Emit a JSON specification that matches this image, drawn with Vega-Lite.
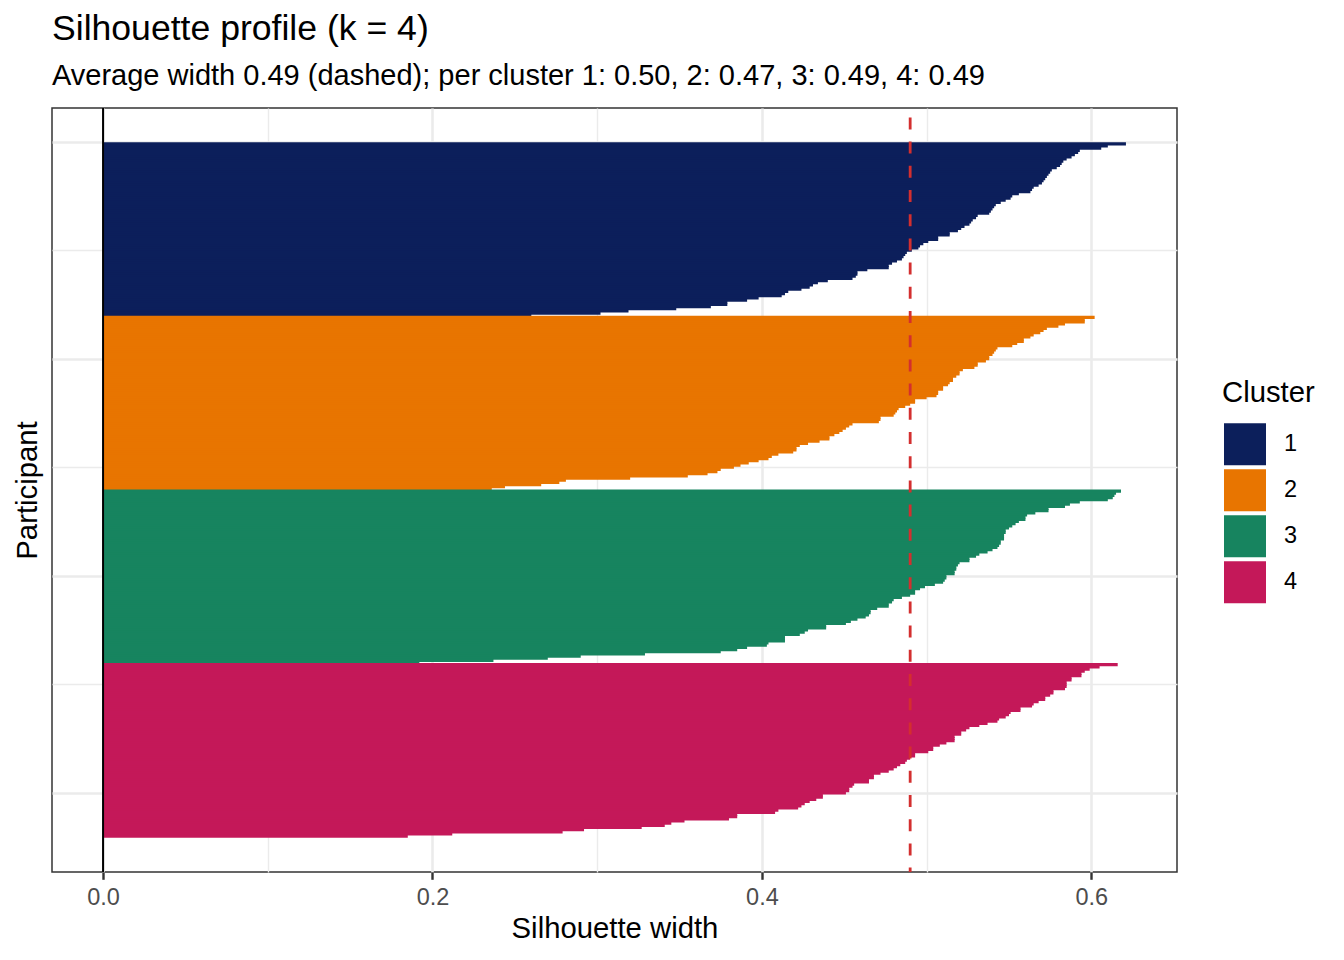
{
  "$schema": "https://vega.github.io/schema/vega-lite/v6.json",
  "width": 1125,
  "height": 764,
  "autosize": {"type": "none"},
  "padding": {"left": 52, "top": 108, "right": 167, "bottom": 88},
  "background": "white",
  "title": {
    "text": "Silhouette profile (k = 4)",
    "subtitle": "Average width 0.49 (dashed); per cluster 1: 0.50, 2: 0.47, 3: 0.49, 4: 0.49",
    "anchor": "start",
    "frame": "group",
    "font": "Liberation Sans",
    "subtitleFont": "Liberation Sans",
    "fontSize": 35.6,
    "fontWeight": "normal",
    "color": "black",
    "subtitleFontSize": 29,
    "subtitleColor": "black",
    "subtitlePadding": 14,
    "offset": 16
  },
  "config": {
    "font": "Liberation Sans",
    "view": {"stroke": "#333333", "strokeWidth": 1.5}
  },
  "layer": [
    {
      "data": {"values": [
        {"i":1,"c":"1","w":0.621},{"i":2,"c":"1","w":0.610},{"i":3,"c":"1","w":0.606},{"i":4,"c":"1","w":0.593},{"i":5,"c":"1","w":0.592},
        {"i":6,"c":"1","w":0.590},{"i":7,"c":"1","w":0.588},{"i":8,"c":"1","w":0.585},{"i":9,"c":"1","w":0.583},{"i":10,"c":"1","w":0.582},
        {"i":11,"c":"1","w":0.581},{"i":12,"c":"1","w":0.579},{"i":13,"c":"1","w":0.576},{"i":14,"c":"1","w":0.575},{"i":15,"c":"1","w":0.574},
        {"i":16,"c":"1","w":0.573},{"i":17,"c":"1","w":0.572},{"i":18,"c":"1","w":0.571},{"i":19,"c":"1","w":0.570},{"i":20,"c":"1","w":0.568},
        {"i":21,"c":"1","w":0.565},{"i":22,"c":"1","w":0.564},{"i":23,"c":"1","w":0.563},{"i":24,"c":"1","w":0.556},{"i":25,"c":"1","w":0.552},
        {"i":26,"c":"1","w":0.551},{"i":27,"c":"1","w":0.548},{"i":28,"c":"1","w":0.545},{"i":29,"c":"1","w":0.542},{"i":30,"c":"1","w":0.541},
        {"i":31,"c":"1","w":0.540},{"i":32,"c":"1","w":0.539},{"i":33,"c":"1","w":0.538},{"i":34,"c":"1","w":0.531},{"i":35,"c":"1","w":0.530},
        {"i":36,"c":"1","w":0.528},{"i":37,"c":"1","w":0.527},{"i":38,"c":"1","w":0.526},{"i":39,"c":"1","w":0.523},{"i":40,"c":"1","w":0.521},
        {"i":41,"c":"1","w":0.519},{"i":42,"c":"1","w":0.514},{"i":43,"c":"1","w":0.514},{"i":44,"c":"1","w":0.507},{"i":45,"c":"1","w":0.507},
        {"i":46,"c":"1","w":0.501},{"i":47,"c":"1","w":0.498},{"i":48,"c":"1","w":0.496},{"i":49,"c":"1","w":0.495},{"i":50,"c":"1","w":0.491},
        {"i":51,"c":"1","w":0.488},{"i":52,"c":"1","w":0.487},{"i":53,"c":"1","w":0.486},{"i":54,"c":"1","w":0.485},{"i":55,"c":"1","w":0.482},
        {"i":56,"c":"1","w":0.479},{"i":57,"c":"1","w":0.477},{"i":58,"c":"1","w":0.477},{"i":59,"c":"1","w":0.464},{"i":60,"c":"1","w":0.458},
        {"i":61,"c":"1","w":0.458},{"i":62,"c":"1","w":0.457},{"i":63,"c":"1","w":0.455},{"i":64,"c":"1","w":0.440},{"i":65,"c":"1","w":0.434},
        {"i":66,"c":"1","w":0.431},{"i":67,"c":"1","w":0.429},{"i":68,"c":"1","w":0.424},{"i":69,"c":"1","w":0.416},{"i":70,"c":"1","w":0.414},
        {"i":71,"c":"1","w":0.412},{"i":72,"c":"1","w":0.398},{"i":73,"c":"1","w":0.391},{"i":74,"c":"1","w":0.379},{"i":75,"c":"1","w":0.379},
        {"i":76,"c":"1","w":0.369},{"i":77,"c":"1","w":0.348},{"i":78,"c":"1","w":0.319},{"i":79,"c":"1","w":0.302},{"i":80,"c":"1","w":0.260},
        {"i":81,"c":"2","w":0.602},{"i":82,"c":"2","w":0.596},{"i":83,"c":"2","w":0.596},{"i":84,"c":"2","w":0.584},{"i":85,"c":"2","w":0.580},
        {"i":86,"c":"2","w":0.573},{"i":87,"c":"2","w":0.571},{"i":88,"c":"2","w":0.569},{"i":89,"c":"2","w":0.565},{"i":90,"c":"2","w":0.563},
        {"i":91,"c":"2","w":0.559},{"i":92,"c":"2","w":0.559},{"i":93,"c":"2","w":0.555},{"i":94,"c":"2","w":0.552},{"i":95,"c":"2","w":0.543},
        {"i":96,"c":"2","w":0.542},{"i":97,"c":"2","w":0.541},{"i":98,"c":"2","w":0.540},{"i":99,"c":"2","w":0.538},{"i":100,"c":"2","w":0.538},
        {"i":101,"c":"2","w":0.536},{"i":102,"c":"2","w":0.531},{"i":103,"c":"2","w":0.531},{"i":104,"c":"2","w":0.529},{"i":105,"c":"2","w":0.522},
        {"i":106,"c":"2","w":0.520},{"i":107,"c":"2","w":0.520},{"i":108,"c":"2","w":0.518},{"i":109,"c":"2","w":0.516},{"i":110,"c":"2","w":0.516},
        {"i":111,"c":"2","w":0.514},{"i":112,"c":"2","w":0.513},{"i":113,"c":"2","w":0.510},{"i":114,"c":"2","w":0.510},{"i":115,"c":"2","w":0.507},
        {"i":116,"c":"2","w":0.507},{"i":117,"c":"2","w":0.506},{"i":118,"c":"2","w":0.500},{"i":119,"c":"2","w":0.493},{"i":120,"c":"2","w":0.493},
        {"i":121,"c":"2","w":0.490},{"i":122,"c":"2","w":0.487},{"i":123,"c":"2","w":0.483},{"i":124,"c":"2","w":0.482},{"i":125,"c":"2","w":0.481},
        {"i":126,"c":"2","w":0.480},{"i":127,"c":"2","w":0.472},{"i":128,"c":"2","w":0.472},{"i":129,"c":"2","w":0.471},{"i":130,"c":"2","w":0.455},
        {"i":131,"c":"2","w":0.453},{"i":132,"c":"2","w":0.451},{"i":133,"c":"2","w":0.449},{"i":134,"c":"2","w":0.447},{"i":135,"c":"2","w":0.444},
        {"i":136,"c":"2","w":0.441},{"i":137,"c":"2","w":0.441},{"i":138,"c":"2","w":0.435},{"i":139,"c":"2","w":0.428},{"i":140,"c":"2","w":0.423},
        {"i":141,"c":"2","w":0.421},{"i":142,"c":"2","w":0.421},{"i":143,"c":"2","w":0.419},{"i":144,"c":"2","w":0.410},{"i":145,"c":"2","w":0.406},
        {"i":146,"c":"2","w":0.404},{"i":147,"c":"2","w":0.398},{"i":148,"c":"2","w":0.392},{"i":149,"c":"2","w":0.387},{"i":150,"c":"2","w":0.383},
        {"i":151,"c":"2","w":0.375},{"i":152,"c":"2","w":0.373},{"i":153,"c":"2","w":0.367},{"i":154,"c":"2","w":0.355},{"i":155,"c":"2","w":0.320},
        {"i":156,"c":"2","w":0.281},{"i":157,"c":"2","w":0.277},{"i":158,"c":"2","w":0.266},{"i":159,"c":"2","w":0.244},{"i":160,"c":"2","w":0.236},
        {"i":161,"c":"3","w":0.618},{"i":162,"c":"3","w":0.615},{"i":163,"c":"3","w":0.614},{"i":164,"c":"3","w":0.613},{"i":165,"c":"3","w":0.610},
        {"i":166,"c":"3","w":0.593},{"i":167,"c":"3","w":0.587},{"i":168,"c":"3","w":0.584},{"i":169,"c":"3","w":0.574},{"i":170,"c":"3","w":0.574},
        {"i":171,"c":"3","w":0.566},{"i":172,"c":"3","w":0.561},{"i":173,"c":"3","w":0.560},{"i":174,"c":"3","w":0.560},{"i":175,"c":"3","w":0.556},
        {"i":176,"c":"3","w":0.554},{"i":177,"c":"3","w":0.552},{"i":178,"c":"3","w":0.550},{"i":179,"c":"3","w":0.548},{"i":180,"c":"3","w":0.548},
        {"i":181,"c":"3","w":0.547},{"i":182,"c":"3","w":0.547},{"i":183,"c":"3","w":0.547},{"i":184,"c":"3","w":0.545},{"i":185,"c":"3","w":0.545},
        {"i":186,"c":"3","w":0.544},{"i":187,"c":"3","w":0.543},{"i":188,"c":"3","w":0.540},{"i":189,"c":"3","w":0.537},{"i":190,"c":"3","w":0.532},
        {"i":191,"c":"3","w":0.530},{"i":192,"c":"3","w":0.526},{"i":193,"c":"3","w":0.526},{"i":194,"c":"3","w":0.520},{"i":195,"c":"3","w":0.519},
        {"i":196,"c":"3","w":0.518},{"i":197,"c":"3","w":0.518},{"i":198,"c":"3","w":0.517},{"i":199,"c":"3","w":0.517},{"i":200,"c":"3","w":0.512},
        {"i":201,"c":"3","w":0.512},{"i":202,"c":"3","w":0.511},{"i":203,"c":"3","w":0.510},{"i":204,"c":"3","w":0.505},{"i":205,"c":"3","w":0.499},
        {"i":206,"c":"3","w":0.496},{"i":207,"c":"3","w":0.493},{"i":208,"c":"3","w":0.493},{"i":209,"c":"3","w":0.490},{"i":210,"c":"3","w":0.485},
        {"i":211,"c":"3","w":0.480},{"i":212,"c":"3","w":0.479},{"i":213,"c":"3","w":0.477},{"i":214,"c":"3","w":0.477},{"i":215,"c":"3","w":0.470},
        {"i":216,"c":"3","w":0.466},{"i":217,"c":"3","w":0.466},{"i":218,"c":"3","w":0.465},{"i":219,"c":"3","w":0.463},{"i":220,"c":"3","w":0.458},
        {"i":221,"c":"3","w":0.454},{"i":222,"c":"3","w":0.451},{"i":223,"c":"3","w":0.439},{"i":224,"c":"3","w":0.439},{"i":225,"c":"3","w":0.428},
        {"i":226,"c":"3","w":0.426},{"i":227,"c":"3","w":0.423},{"i":228,"c":"3","w":0.414},{"i":229,"c":"3","w":0.414},{"i":230,"c":"3","w":0.414},
        {"i":231,"c":"3","w":0.404},{"i":232,"c":"3","w":0.403},{"i":233,"c":"3","w":0.391},{"i":234,"c":"3","w":0.385},{"i":235,"c":"3","w":0.375},
        {"i":236,"c":"3","w":0.329},{"i":237,"c":"3","w":0.290},{"i":238,"c":"3","w":0.270},{"i":239,"c":"3","w":0.237},{"i":240,"c":"3","w":0.192},
        {"i":241,"c":"4","w":0.616},{"i":242,"c":"4","w":0.605},{"i":243,"c":"4","w":0.599},{"i":244,"c":"4","w":0.596},{"i":245,"c":"4","w":0.594},
        {"i":246,"c":"4","w":0.594},{"i":247,"c":"4","w":0.588},{"i":248,"c":"4","w":0.588},{"i":249,"c":"4","w":0.585},{"i":250,"c":"4","w":0.585},
        {"i":251,"c":"4","w":0.585},{"i":252,"c":"4","w":0.584},{"i":253,"c":"4","w":0.577},{"i":254,"c":"4","w":0.577},{"i":255,"c":"4","w":0.575},
        {"i":256,"c":"4","w":0.572},{"i":257,"c":"4","w":0.572},{"i":258,"c":"4","w":0.568},{"i":259,"c":"4","w":0.565},{"i":260,"c":"4","w":0.564},
        {"i":261,"c":"4","w":0.557},{"i":262,"c":"4","w":0.557},{"i":263,"c":"4","w":0.551},{"i":264,"c":"4","w":0.550},{"i":265,"c":"4","w":0.548},
        {"i":266,"c":"4","w":0.544},{"i":267,"c":"4","w":0.543},{"i":268,"c":"4","w":0.537},{"i":269,"c":"4","w":0.532},{"i":270,"c":"4","w":0.526},
        {"i":271,"c":"4","w":0.524},{"i":272,"c":"4","w":0.521},{"i":273,"c":"4","w":0.521},{"i":274,"c":"4","w":0.517},{"i":275,"c":"4","w":0.517},
        {"i":276,"c":"4","w":0.517},{"i":277,"c":"4","w":0.512},{"i":278,"c":"4","w":0.508},{"i":279,"c":"4","w":0.504},{"i":280,"c":"4","w":0.504},
        {"i":281,"c":"4","w":0.501},{"i":282,"c":"4","w":0.493},{"i":283,"c":"4","w":0.493},{"i":284,"c":"4","w":0.490},{"i":285,"c":"4","w":0.488},
        {"i":286,"c":"4","w":0.487},{"i":287,"c":"4","w":0.484},{"i":288,"c":"4","w":0.482},{"i":289,"c":"4","w":0.480},{"i":290,"c":"4","w":0.477},
        {"i":291,"c":"4","w":0.472},{"i":292,"c":"4","w":0.468},{"i":293,"c":"4","w":0.468},{"i":294,"c":"4","w":0.465},{"i":295,"c":"4","w":0.465},
        {"i":296,"c":"4","w":0.456},{"i":297,"c":"4","w":0.455},{"i":298,"c":"4","w":0.453},{"i":299,"c":"4","w":0.453},{"i":300,"c":"4","w":0.451},
        {"i":301,"c":"4","w":0.437},{"i":302,"c":"4","w":0.437},{"i":303,"c":"4","w":0.433},{"i":304,"c":"4","w":0.429},{"i":305,"c":"4","w":0.426},
        {"i":306,"c":"4","w":0.424},{"i":307,"c":"4","w":0.422},{"i":308,"c":"4","w":0.410},{"i":309,"c":"4","w":0.408},{"i":310,"c":"4","w":0.385},
        {"i":311,"c":"4","w":0.385},{"i":312,"c":"4","w":0.380},{"i":313,"c":"4","w":0.353},{"i":314,"c":"4","w":0.345},{"i":315,"c":"4","w":0.341},
        {"i":316,"c":"4","w":0.327},{"i":317,"c":"4","w":0.292},{"i":318,"c":"4","w":0.279},{"i":319,"c":"4","w":0.212},{"i":320,"c":"4","w":0.185}
      ]},
      "mark": {"type": "bar", "orient": "horizontal", "size": 3.2},
      "encoding": {
        "y": {
          "field": "i",
          "type": "quantitative",
          "scale": {"domain": [-15.5, 336.5], "reverse": true, "nice": false, "zero": false, "padding": 0},
          "axis": {
            "values": [0, 50, 100, 150, 200, 250, 300],
            "labels": false,
            "ticks": false,
            "domain": false,
            "grid": true,
            "gridColor": "#EBEBEB",
            "gridWidth": {"condition": {"test": "datum.value % 100 != 0", "value": 1.4}, "value": 2.6},
            "title": "Participant",
            "titleFontSize": 29.3,
            "titleFontWeight": "normal",
            "titleColor": "black",
            "titlePadding": 10
          }
        },
        "x": {
          "field": "w",
          "type": "quantitative",
          "scale": {"domain": [-0.031, 0.652], "nice": false, "zero": false, "padding": 0},
          "axis": {
            "values": [0, 0.1, 0.2, 0.3, 0.4, 0.5, 0.6],
            "labelExpr": "round(datum.value * 10) % 2 == 1 ? '' : format(datum.value, '.1f')",
            "grid": true,
            "gridColor": "#EBEBEB",
            "gridWidth": {"condition": {"test": "round(datum.value * 10) % 2 == 1", "value": 1.4}, "value": 2.6},
            "tickOpacity": {"condition": {"test": "round(datum.value * 10) % 2 == 1", "value": 0}, "value": 1},
            "tickColor": "#333333",
            "tickWidth": 2.4,
            "tickSize": 7.3,
            "domain": false,
            "labelFontSize": 23.5,
            "labelColor": "#4D4D4D",
            "labelPadding": 6,
            "labelFlush": false,
            "labelOverlap": false,
            "title": "Silhouette width",
            "titleFontSize": 29.3,
            "titleFontWeight": "normal",
            "titleColor": "black",
            "titlePadding": 6
          }
        },
        "x2": {"datum": 0},
        "color": {
          "field": "c",
          "type": "nominal",
          "scale": {"domain": ["1", "2", "3", "4"], "range": ["#0C1F5B", "#E87500", "#17845F", "#C41859"]},
          "legend": {
            "title": "Cluster",
            "orient": "none",
            "legendX": 1170,
            "legendY": 271,
            "padding": 0,
            "symbolType": "square",
            "symbolSize": 1764,
            "symbolStrokeWidth": 0,
            "symbolOpacity": 1,
            "symbolOffset": 2,
            "rowPadding": 4,
            "titlePadding": 15,
            "labelOffset": 18,
            "titleFontSize": 29.3,
            "titleFontWeight": "normal",
            "titleColor": "black",
            "labelFontSize": 23.5,
            "labelColor": "black"
          }
        }
      }
    },
    {
      "data": {"values": [{"zero": 0}]},
      "mark": {"type": "rule", "color": "black", "strokeWidth": 2},
      "encoding": {"x": {"field": "zero", "type": "quantitative"}}
    },
    {
      "data": {"values": [{"avg": 0.49}]},
      "mark": {"type": "rule", "color": "#D32F2F", "strokeWidth": 2.8, "strokeDash": [12, 12.2], "strokeDashOffset": 14.8},
      "encoding": {"x": {"field": "avg", "type": "quantitative"}}
    }
  ]
}
